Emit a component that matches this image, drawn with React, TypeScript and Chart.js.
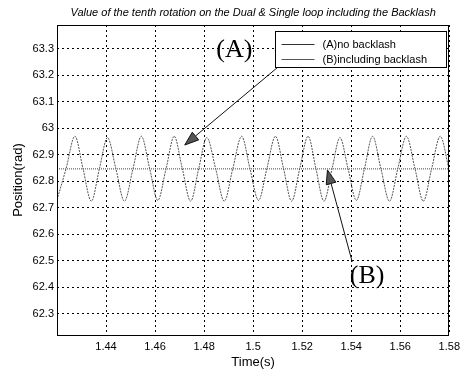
import React, { useEffect, useRef } from "react";
import { Chart, registerables } from "chart.js";

Chart.register(...registerables);

const TITLE = "Value of the tenth rotation on the Dual & Single loop including the Backlash";
const X_TITLE = "Time(s)";
const Y_TITLE = "Position(rad)";
const SERIES_NAMES = ["(A)no backlash", "(B)including backlash"];

// Series A: no backlash (oscillating)
const timeA = [
  1.4200, 1.4237, 1.4273, 1.4306, 1.4340, 1.4373, 1.4406, 1.4440, 1.4475, 1.4510,
  1.4544, 1.4578, 1.4611, 1.4645, 1.4678, 1.4711, 1.4745, 1.4778, 1.4811, 1.4847,
  1.4882, 1.4917, 1.4953, 1.4987, 1.5022, 1.5056, 1.5091, 1.5124, 1.5157, 1.5190,
  1.5224, 1.5256, 1.5289, 1.5322, 1.5354, 1.5387, 1.5421, 1.5454, 1.5487, 1.5521,
  1.5556, 1.5590, 1.5625, 1.5660, 1.5694, 1.5728, 1.5763, 1.5800,
];
const posA = [
  62.730, 62.848, 62.970, 62.848, 62.725, 62.848, 62.965, 62.848, 62.725, 62.848,
  62.970, 62.848, 62.728, 62.848, 62.970, 62.848, 62.725, 62.848, 62.965, 62.848,
  62.725, 62.848, 62.970, 62.848, 62.728, 62.848, 62.970, 62.848, 62.725, 62.848,
  62.970, 62.848, 62.725, 62.848, 62.965, 62.848, 62.728, 62.848, 62.970, 62.848,
  62.725, 62.848, 62.970, 62.848, 62.725, 62.848, 62.970, 62.840,
];

// Series B: including backlash (flat)
const timeB = [1.42, 1.58];
const posB = [62.847, 62.847];

const X_MIN = 1.42;
const X_MAX = 1.58;
const Y_MIN = 62.22;
const Y_MAX = 63.39;

const xTicks = [1.44, 1.46, 1.48, 1.5, 1.52, 1.54, 1.56, 1.58];
const xTickLabels = ["1.44", "1.46", "1.48", "1.5", "1.52", "1.54", "1.56", "1.58"];
const yTicks = [62.3, 62.4, 62.5, 62.6, 62.7, 62.8, 62.9, 63.0, 63.1, 63.2, 63.3];
const yTickLabels = ["62.3", "62.4", "62.5", "62.6", "62.7", "62.8", "62.9", "63", "63.1", "63.2", "63.3"];

// Annotation labels (data coords of text baseline centre) and arrows (data coords)
const annoLabels = ["(A)", "(B)"];
const annoLabelX = [1.4923, 1.5465];
const annoLabelY = [63.269, 62.416];
const arrowFromX = [1.5101, 1.5404];
const arrowFromY = [63.231, 62.496];
const arrowToX = [1.4721, 1.5303];
const arrowToY = [62.937, 62.843];

const SANS = "'Liberation Sans', Arial, sans-serif";
const SERIF = "'Liberation Serif', 'Times New Roman', serif";

const overlayPlugin = {
  id: "overlay",
  afterDraw(chart: any) {
    const { ctx, chartArea, scales } = chart;
    const { left, right, top, bottom } = chartArea;
    const xs = scales.x;
    const ys = scales.y;
    ctx.save();

    // frame
    ctx.strokeStyle = "#000";
    ctx.lineWidth = 1;
    ctx.setLineDash([]);
    ctx.strokeRect(Math.round(left) + 0.5, Math.round(top) + 0.5, Math.round(right - left) - 1, Math.round(bottom - top));

    // title
    ctx.fillStyle = "#000";
    ctx.font = `italic 11px ${SANS}`;
    ctx.textAlign = "center";
    ctx.textBaseline = "middle";
    ctx.fillText(TITLE, (left + right) / 2, 13);

    // x title
    ctx.font = `13px ${SANS}`;
    ctx.fillText(X_TITLE, (left + right) / 2, 362);

    // y title
    ctx.save();
    ctx.translate(18, (top + bottom) / 2);
    ctx.rotate(-Math.PI / 2);
    ctx.fillText(Y_TITLE, 0, 0);
    ctx.restore();

    // arrows
    for (let i = 0; i < arrowFromX.length; i++) {
      const fx = xs.getPixelForValue(arrowFromX[i]);
      const fy = ys.getPixelForValue(arrowFromY[i]);
      const tx = xs.getPixelForValue(arrowToX[i]);
      const ty = ys.getPixelForValue(arrowToY[i]);
      const ang = Math.atan2(ty - fy, tx - fx);
      const L = 14;
      const W = 5;
      const bx = tx - L * Math.cos(ang);
      const by = ty - L * Math.sin(ang);
      ctx.strokeStyle = "#111";
      ctx.lineWidth = 1;
      ctx.beginPath();
      ctx.moveTo(fx, fy);
      ctx.lineTo(bx, by);
      ctx.stroke();
      ctx.beginPath();
      ctx.moveTo(tx, ty);
      ctx.lineTo(bx + W * Math.sin(ang), by - W * Math.cos(ang));
      ctx.lineTo(bx - W * Math.sin(ang), by + W * Math.cos(ang));
      ctx.closePath();
      ctx.fillStyle = "#555";
      ctx.fill();
      ctx.stroke();
    }

    // annotation labels
    ctx.fillStyle = "#000";
    ctx.font = `26px ${SERIF}`;
    ctx.textAlign = "center";
    ctx.textBaseline = "alphabetic";
    for (let i = 0; i < annoLabels.length; i++) {
      ctx.fillText(annoLabels[i], xs.getPixelForValue(annoLabelX[i]), ys.getPixelForValue(annoLabelY[i]));
    }

    // legend
    const bx0 = Math.round(right) - 174 + 0.5;
    const by0 = Math.round(top) + 6 + 0.5;
    const bw = 171;
    const bh = 36;
    ctx.fillStyle = "#fff";
    ctx.fillRect(bx0, by0, bw, bh);
    ctx.strokeStyle = "#000";
    ctx.strokeRect(bx0, by0, bw, bh);
    ctx.font = `11px ${SANS}`;
    ctx.textAlign = "left";
    ctx.textBaseline = "middle";
    const colors = ["#333", "#555"];
    for (let i = 0; i < SERIES_NAMES.length; i++) {
      const ry = Math.round(by0 + 12 + i * 15) + 0.5;
      ctx.strokeStyle = colors[i];
      ctx.beginPath();
      ctx.moveTo(bx0 + 6, ry);
      ctx.lineTo(bx0 + 39, ry);
      ctx.stroke();
      ctx.fillStyle = "#000";
      ctx.fillText(SERIES_NAMES[i], bx0 + 47, ry);
    }

    ctx.restore();
  },
};

export default function App() {
  const ref = useRef<HTMLCanvasElement | null>(null);

  useEffect(() => {
    document.body.style.margin = "0";
    const canvas = ref.current;
    if (!canvas) return;
    const chart = new Chart(canvas, {
      type: "line",
      data: {
        datasets: [
          {
            label: SERIES_NAMES[0],
            data: timeA.map((t, i) => ({ x: t, y: posA[i] })),
            borderColor: "#555",
            borderWidth: 1,
            borderDash: [2, 1],
            pointRadius: 0,
            cubicInterpolationMode: "monotone",
            fill: false,
          },
          {
            label: SERIES_NAMES[1],
            data: timeB.map((t, i) => ({ x: t, y: posB[i] })),
            borderColor: "#444",
            borderWidth: 1,
            borderDash: [1, 1],
            pointRadius: 0,
            fill: false,
          },
        ],
      },
      options: {
        animation: false,
        responsive: false,
        devicePixelRatio: 1,
        layout: { padding: { left: 0, right: 12, top: 25, bottom: 0 } },
        plugins: {
          legend: { display: false },
          title: { display: false },
          tooltip: { enabled: false },
        },
        scales: {
          x: {
            type: "linear",
            min: X_MIN,
            max: X_MAX,
            afterBuildTicks: (scale: any) => {
              scale.ticks = xTicks.map((v) => ({ value: v }));
            },
            afterFit: (scale: any) => {
              scale.height = 37;
            },
            ticks: {
              autoSkip: false,
              maxRotation: 0,
              padding: 5,
              color: "#000",
              font: { family: SANS, size: 11 },
              callback: (_v: any, i: number) => xTickLabels[i],
            },
            grid: { color: "#000", lineWidth: 1, drawTicks: false },
            border: { display: false, dash: [2, 3] },
          },
          y: {
            type: "linear",
            min: Y_MIN,
            max: Y_MAX,
            afterBuildTicks: (scale: any) => {
              scale.ticks = yTicks.map((v) => ({ value: v }));
            },
            afterFit: (scale: any) => {
              scale.width = 57;
            },
            ticks: {
              autoSkip: false,
              padding: 3,
              color: "#000",
              font: { family: SANS, size: 11 },
              callback: (_v: any, i: number) => yTickLabels[i],
            },
            grid: { color: "#000", lineWidth: 1, drawTicks: false },
            border: { display: false, dash: [2, 3] },
          },
        },
      },
      plugins: [overlayPlugin],
    });
    return () => chart.destroy();
  }, []);

  return <canvas ref={ref} width={465} height={372} style={{ display: "block" }} />;
}
